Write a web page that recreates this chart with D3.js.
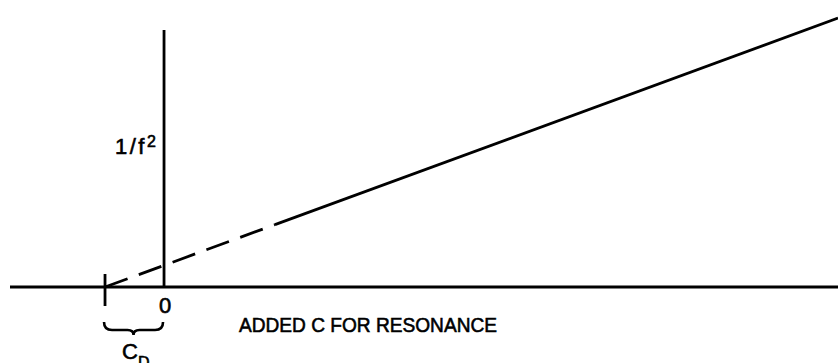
<!DOCTYPE html>
<meta charset="utf-8">
<html>
<head>
    <script src="https://cdn.jsdelivr.net/npm/d3@7"></script>
    <style>
      body { margin: 0; background: #fff; }
      text { font-family: "Liberation Sans", Arial, sans-serif; fill: #000; stroke: #000; stroke-width: 0.6px; }
    </style>
</head>
<body>
    <script>
    // axis extents in chart units (C on x, 1/f^2 on y)
    var xExtent = [-2.61, 11.42];
    var yExtent = [0, 11.87];
    var cD = -1;                       // intercept on C axis
    // measured line, split where the dashes end
    var dashedX = [-1, 1.88];
    var dashedY = [0, 2.88];
    var solidX = [1.88, 11.42];
    var solidY = [2.88, 12.42];

    var svg = d3.select("body")
       .append("svg")
       .attr("width", 838)
       .attr("height", 363);

    var xScale = d3.scaleLinear()
       .domain(xExtent)
       .range([10, 838]);

    var yScale = d3.scaleLinear()
       .domain(yExtent)
       .range([287, 30]);

    var line = d3.line()
       .x(function(d) { return xScale(d[0]); })
       .y(function(d) { return yScale(d[1]); });

    // horizontal axis
    svg.append("line")
       .attr("x1", xScale(xExtent[0])).attr("x2", xScale(xExtent[1]))
       .attr("y1", yScale(0)).attr("y2", yScale(0))
       .attr("stroke", "#000").attr("stroke-width", 3);

    // vertical axis
    svg.append("line")
       .attr("x1", xScale(0)).attr("x2", xScale(0))
       .attr("y1", yScale(0)).attr("y2", yScale(yExtent[1]))
       .attr("stroke", "#000").attr("stroke-width", 2.8);

    // tick at C_D
    svg.append("line")
       .attr("x1", xScale(cD)).attr("x2", xScale(cD))
       .attr("y1", yScale(0) - 13).attr("y2", yScale(0) + 19)
       .attr("stroke", "#000").attr("stroke-width", 2.8);

    svg.append("path")
       .attr("d", line(d3.zip(dashedX, dashedY)))
       .attr("fill", "none")
       .attr("stroke", "#000")
       .attr("stroke-width", 2.8)
       .attr("stroke-dasharray", "24 12");

    svg.append("path")
       .attr("d", line(d3.zip(solidX, solidY)))
       .attr("fill", "none")
       .attr("stroke", "#000")
       .attr("stroke-width", 2.8);

    // brace under C_D .. 0
    var bl = xScale(cD) - 1, br = xScale(0) - 1, bm = (bl + br) / 2, bt = 322;
    svg.append("path")
       .attr("d", "M" + bl + "," + bt +
                  " Q" + bl + "," + (bt + 8) + " " + (bl + 8) + "," + (bt + 8) +
                  " L" + (bm - 6) + "," + (bt + 8) +
                  " Q" + bm + "," + (bt + 8) + " " + bm + "," + (bt + 13) +
                  " Q" + bm + "," + (bt + 8) + " " + (bm + 6) + "," + (bt + 8) +
                  " L" + (br - 8) + "," + (bt + 8) +
                  " Q" + br + "," + (bt + 8) + " " + br + "," + bt)
       .attr("fill", "none")
       .attr("stroke", "#000")
       .attr("stroke-width", 2.6);

    // labels
    var yLab = svg.append("text")
       .attr("x", 115).attr("y", 154)
       .style("font-size", "22px")
       .style("letter-spacing", "2.5px");
    yLab.append("tspan").text("1/f");
    yLab.append("tspan").attr("dy", -7).style("font-size", "16px")
       .style("letter-spacing", "0px").text("2");

    svg.append("text")
       .attr("x", xScale(0) + 1).attr("y", 313)
       .attr("text-anchor", "middle")
       .style("font-size", "22px")
       .text("0");

    svg.append("text")
       .attr("x", 239).attr("y", 332)
       .attr("textLength", 258)
       .attr("lengthAdjust", "spacingAndGlyphs")
       .style("font-size", "21px")
       .text("ADDED C FOR RESONANCE");

    var cLab = svg.append("text")
       .attr("x", 122).attr("y", 359)
       .style("font-size", "22px");
    cLab.append("tspan").text("C");
    cLab.append("tspan").attr("dy", 9).style("font-size", "16px").text("D");
    </script>
</body>
</html>
